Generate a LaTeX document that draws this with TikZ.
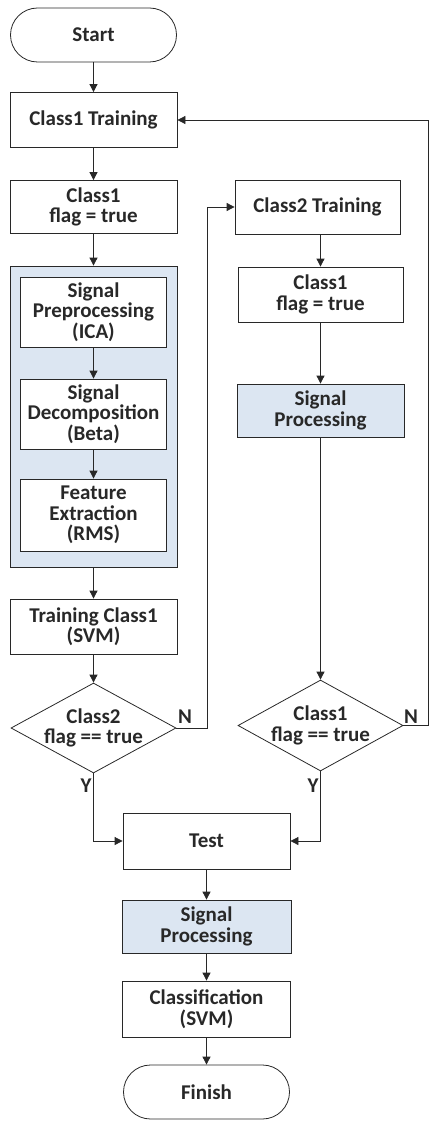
\documentclass[tikz,border=0pt]{standalone}
\usepackage{fontspec}
\setmainfont{Carlito}
\usetikzlibrary{shapes.geometric,arrows.meta}
\definecolor{procblue}{RGB}{220,230,242}
\definecolor{inkgray}{RGB}{40,40,40}

\begin{document}
\begin{tikzpicture}[x=1pt,y=-1pt,
    >={Triangle[length=8pt,width=8pt]},
    every node/.style={font=\bfseries\fontsize{21}{20.5}\selectfont, align=center, text=inkgray},
    box/.style={draw=inkgray, line width=0.8pt, fill=white, minimum width=167pt, minimum height=55pt, inner sep=1pt},
    procbox/.style={box, fill=procblue},
    innerbox/.style={box, minimum width=146pt, minimum height=70pt},
    terminal/.style={box, rounded corners=27pt, minimum height=54pt},
    decision/.style={diamond, draw=inkgray, line width=0.8pt, minimum width=165pt, minimum height=90pt, inner sep=0pt},
    flow/.style={->, draw=inkgray, line width=0.8pt},
    yn/.style={inner sep=0pt}
]
    \useasboundingbox (0,0) rectangle (430,1123);

    % left column
    \node[terminal, minimum width=166pt] (start) at (93.5,35) {Start};
    \node[box] (c1train) at (93.5,120) {Class1 Training};
    \node[box, minimum height=53pt] (c1flag) at (93.5,207) {Class1\\flag = true};
    \node[procbox, minimum height=301pt] (sigblock) at (93.5,416.5) {};
    \node[innerbox] (preproc) at (93.5,312) {Signal\\Preprocessing\\(ICA)};
    \node[innerbox] (decomp) at (93.5,414) {Signal\\Decomposition\\(Beta)};
    \node[innerbox, minimum height=72pt] (feature) at (93.5,515) {Feature\\Extraction\\(RMS)};
    \node[box] (svmtrain) at (93.5,626.5) {Training Class1\\(SVM)};
    \node[decision, label={[align=center]center:Class2\\flag == true}] (dec2) at (93.5,728) {};

    % right column
    \node[box, minimum width=165pt, minimum height=54pt] (c2train) at (317.5,207) {Class2 Training};
    \node[box, minimum width=165pt] (c1flagb) at (320.5,294.5) {Class1\\flag = true};
    \node[procbox, minimum height=53pt] (procb) at (320.5,410.5) {Signal\\Processing};
    \node[decision, minimum height=91pt, label={[align=center]center:Class1\\flag == true}] (dec1) at (320.5,725.5) {};

    % bottom
    \node[box, minimum height=56pt] (test) at (206.5,841) {Test};
    \node[procbox, minimum width=169pt, minimum height=53pt] (proc) at (206.5,926.5) {Signal\\Processing};
    \node[box, minimum width=168pt, minimum height=56pt] (classif) at (206.5,1009) {Classification\\(SVM)};
    \node[terminal, minimum width=166pt] (finish) at (206.5,1092) {Finish};

    % connectors
    \draw[flow] (start) -- (c1train);
    \draw[flow] (c1train) -- (c1flag);
    \draw[flow] (c1flag) -- (sigblock);
    \draw[flow] (preproc) -- (decomp);
    \draw[flow] (decomp) -- (feature);
    \draw[flow] (sigblock) -- (svmtrain);
    \draw[flow] (svmtrain) -- (dec2);
    \draw[flow] (dec2.east) -- ++(31,0) |- (c2train.west);
    \draw[flow] (c2train.south -| c1flagb) -- (c1flagb);
    \draw[flow] (c1flagb) -- (procb);
    \draw[flow] (procb) -- (dec1);
    \draw[flow] (dec1.east) -- ++(25,0) |- (c1train.east);
    \draw[flow] (dec2.south) |- (test.west);
    \draw[flow] (dec1.south) |- (test.east);
    \draw[flow] (test) -- (proc);
    \draw[flow] (proc) -- (classif);
    \draw[flow] (classif) -- (finish);

    % branch labels
    \node[yn] (n2) at (185,717) {N};
    \node[yn] (n1) at (411,717) {N};
    \node[yn] (y2) at (86,786) {Y};
    \node[yn] (y1) at (313,786) {Y};
\end{tikzpicture}
\end{document}
